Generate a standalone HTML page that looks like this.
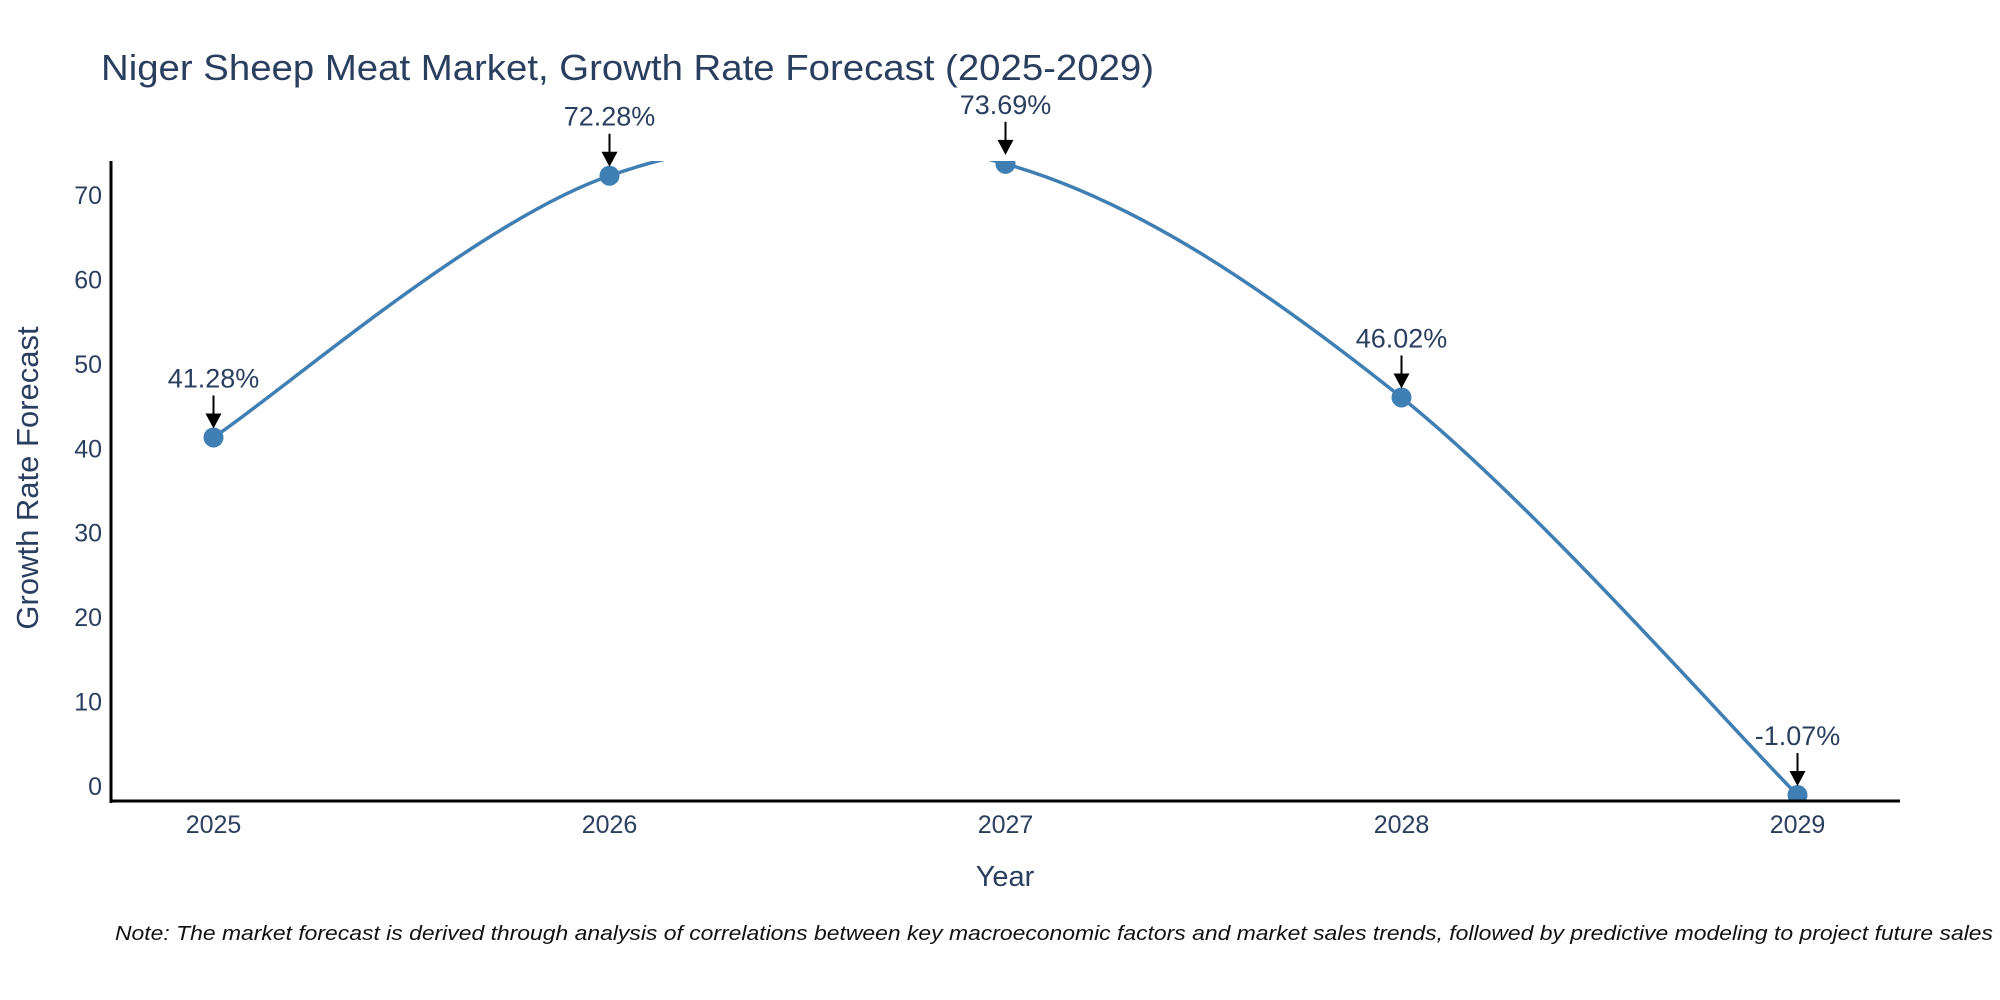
<!DOCTYPE html>
<html><head><meta charset="utf-8"><style>
html,body{margin:0;padding:0;background:#fff;}
svg{display:block;font-family:"Liberation Sans",sans-serif;}
</style></head><body>
<svg id="chart" width="2000" height="1000" viewBox="0 0 2000 1000">
<defs>
<clipPath id="plotclip"><rect x="111" y="161" width="1789" height="640"/></clipPath>
</defs>
<text x="101" y="80" font-size="36" fill="#2a3f5f" textLength="1053" lengthAdjust="spacingAndGlyphs">Niger Sheep Meat Market, Growth Rate Forecast (2025-2029)</text>
<g id="yticks"></g>
<g id="xticks"></g>
<g id="series" clip-path="url(#plotclip)"></g>
<g id="annotations"></g>
<line x1="111" y1="161" x2="111" y2="803" stroke="#000" stroke-width="3"/>
<line x1="110" y1="801" x2="1900" y2="801" stroke="#000" stroke-width="3"/>
<text transform="translate(38,478) rotate(-90)" text-anchor="middle" font-size="31" fill="#2a3f5f">Growth Rate Forecast</text>
<text x="1005" y="886" text-anchor="middle" font-size="29" fill="#2a3f5f">Year</text>
<text x="115" y="940" font-size="20" font-style="italic" fill="#111" textLength="1878" lengthAdjust="spacingAndGlyphs">Note: The market forecast is derived through analysis of correlations between key macroeconomic factors and market sales trends, followed by predictive modeling to project future sales</text>
</svg>
<script>
const years = ["2025","2026","2027","2028","2029"];
const growthValues = [41.28, 72.28, 73.69, 46.02, -1.07];
const valueLabels = ["41.28%","72.28%","73.69%","46.02%","-1.07%"];
const yTickValues = [0,10,20,30,40,50,60,70];

const NS = "http://www.w3.org/2000/svg";
const xPx = i => 213.5 + i * 396;
const yPx = v => 786 - v * 8.443;
function mk(tag, attrs, parent){const e=document.createElementNS(NS,tag);for(const k in attrs)e.setAttribute(k,attrs[k]);parent.appendChild(e);return e;}

const yt = document.getElementById('yticks');
yTickValues.forEach(v=>{
  const t = mk('text',{x:102,y:yPx(v)+9,'text-anchor':'end','font-size':25,fill:'#2a3f5f'},yt);
  
  
  t.textContent = v;
});
const xt = document.getElementById('xticks');
years.forEach((y,i)=>{
  const t = mk('text',{x:xPx(i),y:833,'text-anchor':'middle','font-size':25,fill:'#2a3f5f'},xt);
  
  
  t.textContent = y;
});

const pts = growthValues.map((v,i)=>[xPx(i),yPx(v)]);
let d = `M${pts[0][0]},${pts[0][1]}`;
for(let i=0;i<pts.length-1;i++){
  const p0=pts[Math.max(i-1,0)],p1=pts[i],p2=pts[i+1],p3=pts[Math.min(i+2,pts.length-1)];
  const c1=[p1[0]+(p2[0]-p0[0])/6,p1[1]+(p2[1]-p0[1])/6];
  const c2=[p2[0]-(p3[0]-p1[0])/6,p2[1]-(p3[1]-p1[1])/6];
  d+=` C${c1[0]},${c1[1]} ${c2[0]},${c2[1]} ${p2[0]},${p2[1]}`;
}
const s = document.getElementById('series');
const line = mk('path',{d:d,fill:'none',stroke:'#3f7fb3','stroke-width':3.5},s);


pts.forEach((p,i)=>{
  const c = mk('circle',{cx:p[0],cy:p[1],r:10,fill:'#3f7fb3'},s);
  
  
});
const an = document.getElementById('annotations');
pts.forEach((p,i)=>{
  const a = mk('line',{x1:p[0],y1:p[1]-42,x2:p[0],y2:p[1]-20,stroke:'#000','stroke-width':2},an);
  
  
  const h = mk('polygon',{points:`${p[0]-8},${p[1]-24} ${p[0]+8},${p[1]-24} ${p[0]},${p[1]-9}`,fill:'#000'},an);
  
  
  const t = mk('text',{x:p[0],y:p[1]-50,'text-anchor':'middle','font-size':27,fill:'#2a3f5f'},an);
  
  
  t.textContent = valueLabels[i];
});
</script>
</body></html>
